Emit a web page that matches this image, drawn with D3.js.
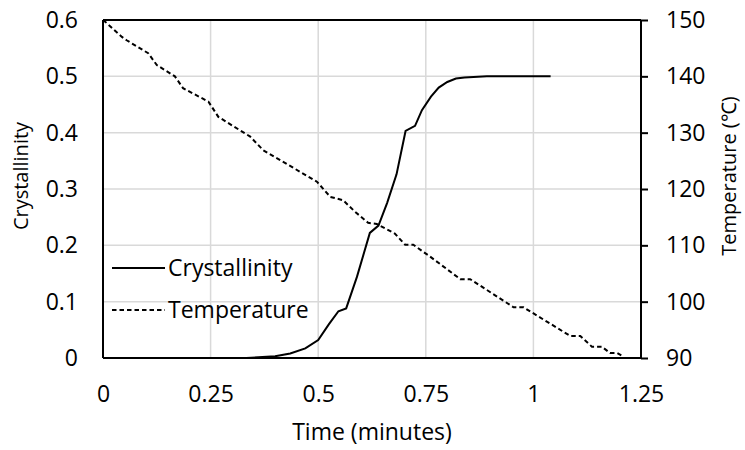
<!DOCTYPE html>
<html>
<head>
<meta charset="utf-8">
<script src="https://cdn.jsdelivr.net/npm/d3@7"></script>
<style>
  body { margin: 0; background: #fff; }
  text { font-family: "Open Sans", sans-serif; fill: #000; }
</style>
</head>
<body>
<div id="container"></div>
<script>
// time in minutes, crystallinity (0-1)
let crystTime = [0.333, 0.4, 0.435, 0.47, 0.5, 0.525, 0.547, 0.565, 0.59, 0.62, 0.64, 0.66, 0.682, 0.703, 0.725, 0.741, 0.762, 0.78, 0.8, 0.82, 0.84, 0.892, 1.04];
let crystValue = [0, 0.003, 0.008, 0.017, 0.032, 0.06, 0.083, 0.088, 0.144, 0.222, 0.235, 0.275, 0.326, 0.403, 0.412, 0.44, 0.464, 0.48, 0.49, 0.496, 0.498, 0.5, 0.5];

// time in minutes, temperature (C)
let tempTime = [0, 0.005, 0.044, 0.055, 0.105, 0.125, 0.167, 0.186, 0.245, 0.268, 0.342, 0.372, 0.497, 0.528, 0.558, 0.585, 0.616, 0.636, 0.678, 0.702, 0.721, 0.76, 0.83, 0.853, 0.954, 0.977, 1.086, 1.109, 1.136, 1.159, 1.178, 1.194, 1.21];
let tempValue = [150, 149.7, 147.0, 146.4, 144.1, 142.0, 140.0, 137.9, 135.5, 132.8, 129.3, 126.9, 121.3, 118.6, 118.0, 116.0, 114.0, 113.8, 112.1, 110.1, 110.1, 108.0, 104.0, 104.0, 99.0, 99.0, 93.9, 93.9, 92.0, 92.0, 90.9, 90.9, 90.2];

let xTicks = [0, 0.25, 0.5, 0.75, 1, 1.25];
let yTicks = [0, 0.1, 0.2, 0.3, 0.4, 0.5, 0.6];
let y2Ticks = [90, 100, 110, 120, 130, 140, 150];

let w = 745;
let h = 450;
let padLeft = 103, padRight = 641, padTop = 20, padBottom = 358;
let fontSize = "23px";
let titleSize = "20px";

let viz = d3.select("#container")
  .append("svg")
    .attr("width", w)
    .attr("height", h)
;

let xScale = d3.scaleLinear().domain([0, 1.25]).range([padLeft, padRight]);
let yScale = d3.scaleLinear().domain([0, 0.6]).range([padBottom, padTop]);
let y2Scale = d3.scaleLinear().domain([90, 150]).range([padBottom, padTop]);

// gridlines
let grid = viz.append("g").attr("class", "grid");
grid.selectAll(".vgrid").data(xTicks).enter()
  .append("line")
    .attr("x1", d => xScale(d)).attr("x2", d => xScale(d))
    .attr("y1", padTop).attr("y2", padBottom)
    .attr("stroke", "#d9d9d9").attr("stroke-width", 1.5)
;
grid.selectAll(".hgrid").data(yTicks).enter()
  .append("line")
    .attr("x1", padLeft).attr("x2", padRight)
    .attr("y1", d => yScale(d)).attr("y2", d => yScale(d))
    .attr("stroke", "#d9d9d9").attr("stroke-width", 1.5)
;

// axes
let xAxis = d3.axisBottom(xScale).tickValues(xTicks).tickSize(0)
  .tickFormat(d => String(d));
let xAxisGroup = viz.append("g")
    .attr("class", "xaxisgroup")
    .attr("transform", "translate(0," + padBottom + ")")
;
xAxisGroup.call(xAxis);

let yAxis = d3.axisLeft(yScale).tickValues(yTicks).tickSize(0).tickPadding(25)
  .tickFormat(d => String(d));
let yAxisGroup = viz.append("g")
    .attr("class", "yaxisgroup")
    .attr("transform", "translate(" + padLeft + ",0)")
;
yAxisGroup.call(yAxis);

let y2Axis = d3.axisRight(y2Scale).tickValues(y2Ticks).tickSize(7).tickPadding(18);
let y2AxisGroup = viz.append("g")
    .attr("class", "y2axisgroup")
    .attr("transform", "translate(" + padRight + ",0)")
;
y2AxisGroup.call(y2Axis);

viz.selectAll(".domain").remove();
viz.selectAll(".tick text").style("font-size", fontSize).style("font-family", "'Open Sans', sans-serif");
y2AxisGroup.selectAll(".tick line").attr("stroke", "#000").attr("stroke-width", 2);
xAxisGroup.selectAll(".tick text").attr("y", 36).attr("dy", "0.35em");

// frame
viz.append("line").attr("x1", padLeft).attr("x2", padRight).attr("y1", padTop).attr("y2", padTop)
  .attr("stroke", "#000").attr("stroke-width", 2);
viz.append("line").attr("x1", padLeft).attr("x2", padRight).attr("y1", padBottom).attr("y2", padBottom)
  .attr("stroke", "#000").attr("stroke-width", 2);
viz.append("line").attr("x1", padLeft).attr("x2", padLeft).attr("y1", padTop).attr("y2", padBottom)
  .attr("stroke", "#000").attr("stroke-width", 2);
viz.append("line").attr("x1", padRight).attr("x2", padRight).attr("y1", padTop).attr("y2", padBottom)
  .attr("stroke", "#000").attr("stroke-width", 2);

// lines
let crystLine = d3.line()
  .x((d, i) => xScale(crystTime[i]))
  .y(d => yScale(d));
let tempLine = d3.line()
  .x((d, i) => xScale(tempTime[i]))
  .y(d => y2Scale(d));

let graphGroup = viz.append("g").attr("class", "graphGroup");
graphGroup.append("path")
  .attr("d", tempLine(tempValue))
  .attr("fill", "none")
  .attr("stroke", "#000")
  .attr("stroke-width", 2)
  .attr("stroke-dasharray", "4.5,3");
graphGroup.append("path")
  .attr("d", crystLine(crystValue))
  .attr("fill", "none")
  .attr("stroke", "#000")
  .attr("stroke-width", 2);

// legend
let legend = viz.append("g").attr("class", "legend");
legend.append("line").attr("x1", 112).attr("x2", 165).attr("y1", 268).attr("y2", 268)
  .attr("stroke", "#000").attr("stroke-width", 2);
legend.append("text").attr("x", 168).attr("y", 268).attr("dy", "0.35em")
  .style("font-size", fontSize).text("Crystallinity");
legend.append("line").attr("x1", 112).attr("x2", 165).attr("y1", 310).attr("y2", 310)
  .attr("stroke", "#000").attr("stroke-width", 2).attr("stroke-dasharray", "4.5,3");
legend.append("text").attr("x", 168).attr("y", 310).attr("dy", "0.35em")
  .style("font-size", fontSize).text("Temperature");

// axis titles
viz.append("text")
  .attr("x", (padLeft + padRight) / 2).attr("y", 440)
  .attr("text-anchor", "middle")
  .style("font-size", fontSize)
  .text("Time (minutes)");
viz.append("text")
  .attr("transform", "translate(28,176) rotate(-90)")
  .attr("text-anchor", "middle")
  .style("font-size", titleSize)
  .text("Crystallinity");
viz.append("text")
  .attr("transform", "translate(736,176) rotate(-90)")
  .attr("text-anchor", "middle")
  .style("font-size", titleSize)
  .text("Temperature (\u2103)");
</script>
</body>
</html>
